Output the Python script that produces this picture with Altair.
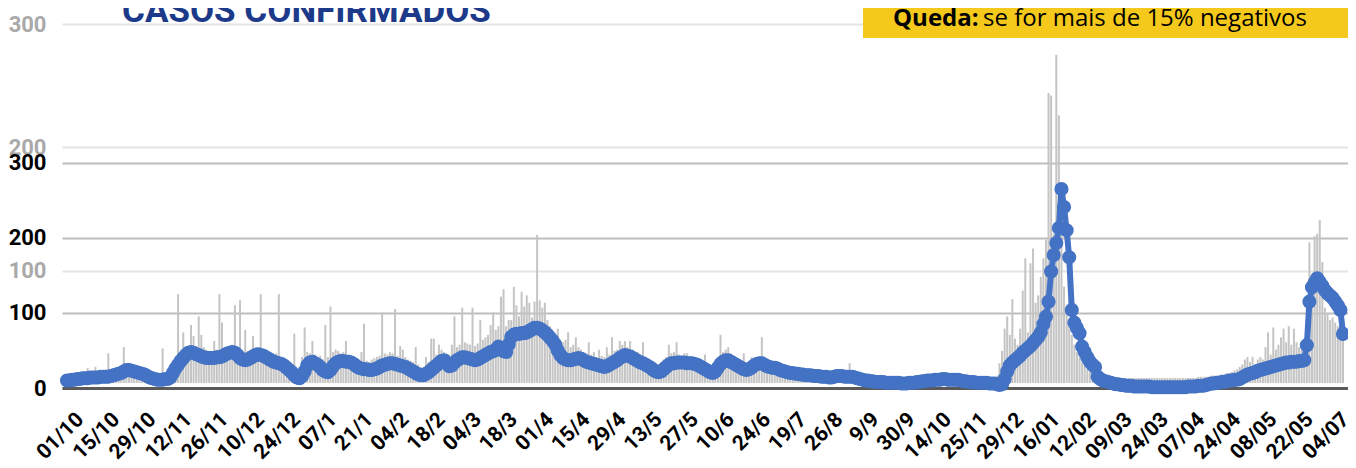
import altair as alt
import pandas as pd

# ---------------- data ----------------
X_LABELS = ["01/10", "15/10", "29/10", "12/11", "26/11", "10/12", "24/12", "07/1", "21/1",
            "04/2", "18/2", "04/3", "18/3", "01/4", "15/4", "29/4", "13/5", "27/5", "10/6",
            "24/6", "19/7", "26/8", "9/9", "30/9", "14/10", "25/11", "29/12", "16/01", "12/02",
            "09/03", "24/03", "07/04", "24/04", "08/05", "22/05", "04/07"]

# moving average (black axis)
LINE_VALUES = [
    10, 10, 11, 11, 12, 12, 13, 13, 13, 14, 14, 14, 14, 15,
    15, 15, 15, 16, 17, 18, 19, 20, 22, 24, 24, 23, 22, 21,
    20, 19, 18, 16, 14, 13, 12, 11, 11, 11, 12, 12, 14, 20,
    26, 31, 36, 40, 44, 47, 48, 47, 45, 44, 42, 41, 40, 40,
    40, 40, 41, 41, 42, 44, 46, 47, 48, 47, 44, 40, 38, 37,
    38, 40, 42, 44, 45, 44, 43, 41, 39, 37, 35, 34, 33, 32,
    30, 27, 24, 21, 17, 14, 13, 16, 22, 30, 34, 35, 33, 31,
    28, 24, 22, 21, 24, 29, 33, 35, 36, 36, 35, 35, 34, 32,
    29, 27, 26, 25, 25, 24, 24, 25, 26, 28, 30, 31, 32, 33,
    33, 32, 31, 30, 29, 28, 26, 24, 22, 20, 18, 17, 17, 19,
    21, 24, 27, 30, 33, 36, 37, 33, 29, 30, 34, 37, 39, 41,
    41, 40, 39, 38, 37, 38, 40, 42, 44, 46, 48, 49, 51, 55,
    52, 49, 48, 58, 68, 71, 72, 72, 73, 73, 74, 76, 78, 80,
    80, 79, 77, 74, 71, 67, 63, 58, 50, 44, 40, 38, 37, 37,
    38, 39, 40, 39, 37, 35, 34, 33, 32, 31, 30, 29, 28, 29,
    31, 33, 35, 37, 40, 42, 44, 43, 42, 40, 38, 36, 34, 33,
    31, 29, 27, 24, 22, 21, 22, 25, 28, 31, 33, 33, 34, 34,
    34, 34, 33, 33, 33, 32, 31, 29, 27, 25, 23, 21, 20, 22,
    27, 32, 35, 37, 37, 35, 33, 31, 29, 27, 25, 24, 25, 27,
    30, 32, 33, 33, 31, 29, 28, 27, 27, 26, 24, 23, 22, 21,
    20, 20, 19, 19, 18, 18, 17, 17, 17, 16, 16, 16, 15, 15,
    15, 14, 14, 15, 16, 16, 16, 15, 15, 15, 15, 14, 13, 12,
    11, 10, 10, 9, 9, 8, 8, 8, 8, 7, 7, 7, 7, 7,
    7, 6, 6, 6, 7, 7, 7, 8, 8, 9, 9, 10, 10, 10,
    11, 11, 11, 12, 12, 11, 11, 11, 11, 11, 10, 9, 9, 8,
    8, 8, 7, 7, 7, 7, 7, 6, 6, 6, 5, 4, 5, 12,
    22, 30, 34, 37, 40, 43, 47, 50, 53, 56, 60, 64, 68, 74,
    85, 95, 115, 155, 177, 193, 213, 265, 241, 210, 174, 104, 87, 80,
    73, 55, 48, 41, 35, 31, 28, 15, 12, 10, 9, 8, 7, 6,
    5, 5, 4, 4, 3, 3, 3, 2, 2, 2, 2, 2, 2, 2,
    1, 1, 1, 1, 1, 1, 1, 1, 1, 1, 1, 1, 1, 1,
    2, 2, 2, 2, 3, 3, 3, 4, 5, 6, 6, 7, 7, 8,
    8, 9, 10, 10, 11, 11, 12, 14, 16, 18, 19, 20, 21, 23,
    24, 25, 26, 27, 28, 29, 30, 31, 32, 33, 34, 34, 35, 35,
    35, 36, 36, 37, 57, 115, 134, 140, 146, 141, 136, 130, 126, 123,
    120, 115, 110, 104, 72,
]

# daily cases (grey axis)
BAR_VALUES = [
    14, 15, 16, 15, 17, 16, 18, 15, 21, 17, 16, 22, 18, 17,
    19, 20, 33, 18, 20, 19, 21, 22, 38, 24, 23, 22, 21, 20,
    20, 18, 17, 16, 15, 14, 14, 13, 15, 37, 16, 18, 22, 26,
    30, 81, 32, 50, 35, 34, 56, 47, 36, 63, 48, 38, 36, 35,
    34, 43, 36, 81, 58, 37, 36, 38, 40, 72, 36, 76, 34, 52,
    35, 36, 47, 38, 37, 81, 36, 34, 32, 31, 30, 33, 81, 29,
    28, 26, 24, 22, 49, 20, 22, 30, 54, 34, 33, 43, 32, 30,
    31, 28, 56, 30, 71, 34, 36, 35, 33, 34, 43, 32, 31, 30,
    29, 28, 34, 57, 27, 26, 28, 29, 30, 31, 66, 33, 32, 34,
    33, 69, 31, 39, 36, 30, 28, 27, 26, 38, 24, 22, 21, 30,
    26, 45, 45, 32, 40, 36, 34, 30, 32, 40, 63, 38, 40, 70,
    42, 41, 40, 70, 39, 41, 60, 44, 46, 48, 56, 66, 52, 55,
    79, 85, 55, 60, 60, 87, 72, 63, 83, 71, 80, 74, 62, 75,
    129, 76, 70, 74, 60, 55, 50, 45, 53, 40, 42, 44, 50, 38,
    40, 46, 38, 36, 34, 33, 42, 32, 34, 30, 36, 31, 30, 38,
    32, 46, 35, 36, 43, 40, 43, 38, 43, 36, 34, 34, 30, 42,
    30, 28, 26, 24, 25, 24, 26, 28, 30, 40, 33, 34, 42, 32,
    30, 33, 33, 31, 30, 29, 28, 26, 27, 32, 24, 22, 23, 24,
    30, 48, 34, 36, 38, 33, 30, 28, 27, 26, 33, 25, 26, 30,
    28, 30, 29, 46, 24, 22, 21, 20, 19, 19, 18, 17, 17, 16,
    16, 16, 15, 15, 15, 14, 14, 14, 14, 13, 13, 13, 13, 13,
    13, 13, 13, 14, 14, 14, 14, 14, 14, 25, 14, 13, 13, 12,
    12, 12, 12, 12, 12, 11, 11, 11, 11, 11, 11, 11, 11, 11,
    11, 11, 11, 11, 11, 11, 11, 12, 12, 12, 12, 12, 12, 13,
    13, 13, 13, 13, 13, 13, 13, 13, 13, 13, 12, 12, 12, 12,
    12, 12, 11, 11, 11, 11, 11, 11, 11, 12, 15, 25, 35, 53,
    63, 48, 77, 45, 40, 53, 84, 110, 50, 106, 118, 74, 80, 95,
    110, 125, 244, 242, 130, 275, 226, 147, 87, 70, 58, 48, 40, 34,
    30, 26, 23, 20, 18, 17, 16, 15, 15, 14, 14, 14, 14, 13,
    13, 13, 13, 13, 13, 13, 13, 13, 13, 13, 13, 13, 13, 13,
    13, 13, 13, 13, 13, 13, 13, 13, 13, 13, 13, 13, 13, 13,
    13, 13, 13, 13, 14, 14, 14, 14, 14, 15, 15, 15, 15, 16,
    16, 17, 17, 18, 19, 20, 22, 24, 28, 30, 26, 30, 24, 28,
    30, 28, 38, 50, 32, 54, 36, 40, 46, 53, 42, 55, 40, 53,
    42, 38, 36, 40, 70, 123, 76, 128, 130, 141, 107, 70, 65, 60,
    62, 58, 55, 60, 52,
]

GREY_TICKS = [100, 200, 300]
BLACK_TICKS = [0, 100, 200, 300]
TITLE = "CASOS CONFIRMADOS"
NOTE_BOLD = "Queda:"
NOTE_TEXT = "se for mais de 15% negativos"

n = len(LINE_VALUES)
df = pd.DataFrame({"i": list(range(n)), "media": LINE_VALUES, "casos": BAR_VALUES[:n]})

FONT = "Roboto"
BLUE = "#4472C4"
SHIFT = 5  # labels sit a little right of their category, as in the original

label_js = "[" + ",".join("'" + s + "'" for s in X_LABELS) + "]"
x_enc = alt.X(
    "i:Q",
    scale=alt.Scale(domain=[0, n - 1], nice=False, zero=False),
    axis=alt.Axis(
        values=[14 * k + SHIFT for k in range(len(X_LABELS))],
        labelExpr=label_js + "[round((datum.value-" + str(SHIFT) + ")/14)]",
        labelAngle=315, labelAlign="right", labelBaseline="middle",
        labelFont=FONT, labelFontWeight="bold", labelFontSize=21, labelColor="black",
        labelPadding=28, labelOverlap=False, labelBound=False, labelFlush=False,
        ticks=False, grid=False, domainColor="#5a5a5a", domainWidth=3, title=None,
    ),
)

bars = alt.Chart(df).mark_bar(color="#c4c4c4", size=2).encode(
    x=x_enc,
    y=alt.Y(
        "casos:Q",
        scale=alt.Scale(domain=[4.9, 300], nice=False, zero=False),
        axis=alt.Axis(
            orient="left", values=GREY_TICKS, labelColor="#a9a9a9",
            labelFont=FONT, labelFontWeight="bold", labelFontSize=22, labelPadding=16,
            ticks=False, domain=False, grid=True, gridColor="#e4e4e4", gridWidth=2, title=None,
        ),
    ),
    y2=alt.datum(9),
)

line = alt.Chart(df).mark_line(
    color=BLUE, strokeWidth=6,
    point=alt.OverlayMarkDef(filled=True, size=200, color=BLUE, opacity=1),
).encode(
    x=x_enc,
    y=alt.Y(
        "media:Q",
        scale=alt.Scale(domain=[0, 484.7], nice=False, zero=True),
        axis=alt.Axis(
            orient="left", values=BLACK_TICKS, labelColor="black",
            labelFont=FONT, labelFontWeight="bold", labelFontSize=22, labelPadding=16,
            ticks=False, domain=False, grid=True, gridColor="#bebebe", gridWidth=2, title=None,
        ),
    ),
)

box = alt.Chart(pd.DataFrame({"a": [0]})).mark_rect(color="#F5C91C").encode(
    x=alt.value(801), x2=alt.value(1300), y=alt.value(-30), y2=alt.value(14)
)

note_b = alt.Chart(pd.DataFrame({"t": [NOTE_BOLD]})).mark_text(
    font="Open Sans", fontWeight="bold", fontSize=24, color="black", align="left", baseline="alphabetic"
).encode(text="t:N", x=alt.value(831), y=alt.value(2))

note_r = alt.Chart(pd.DataFrame({"t": [NOTE_TEXT]})).mark_text(
    font="Open Sans", fontSize=24, color="black", align="left", baseline="alphabetic"
).encode(text="t:N", x=alt.value(921), y=alt.value(2))

title = alt.Chart(pd.DataFrame({"t": [TITLE]})).mark_text(
    font=FONT, fontWeight="bold", fontSize=35, color="#1d3a8a", align="left", baseline="alphabetic"
).encode(text="t:N", x=alt.value(60), y=alt.value(-2))

chart = alt.layer(bars, line, box, note_b, note_r, title).resolve_scale(
    y="independent"
).properties(
    width=1286, height=364,
    padding={"left": 54, "top": 16, "right": 0, "bottom": 72},
    autosize="none", background="white",
).configure_view(stroke=None)

chart.save("out.html", embed_options={"renderer": "svg", "actions": False})
